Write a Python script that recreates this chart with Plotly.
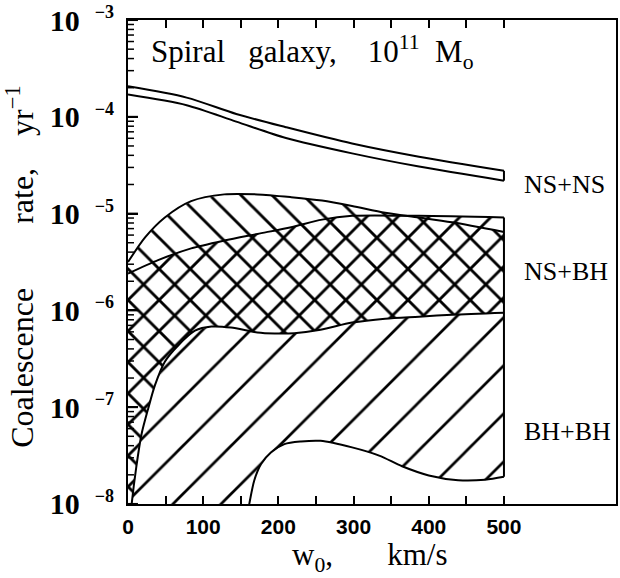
import plotly.graph_objects as go

# ---------------- data (rates in yr^-1, w0 in km/s) ----------------
ns_ns_w = [0, 78, 144, 210, 298, 387, 500]
ns_ns_upper = [2.065e-4, 1.58e-4, 1.07e-4, 7.82e-5, 5.30e-5, 3.87e-5, 2.77e-5]
ns_ns_lower = [1.70e-4, 1.32e-4, 8.93e-5, 6.04e-5, 4.19e-5, 3.06e-5, 2.19e-5]

nsbh_a_w = [0, 23, 49, 84, 128, 172, 217, 258, 298, 342, 387, 431, 500]
nsbh_a_upper = [3.16e-6, 5.71e-6, 9.12e-6, 1.345e-5, 1.58e-5, 1.58e-5, 1.48e-5,
                1.365e-5, 1.20e-5, 1.02e-5, 9.12e-6, 8.13e-6, 6.46e-6]

nsbh_b_w = [0, 40, 84, 128, 172, 217, 258, 298, 387, 500]
nsbh_b_upper = [2.40e-6, 3.31e-6, 4.37e-6, 5.27e-6, 6.17e-6, 7.24e-6, 8.67e-6,
                9.48e-6, 9.48e-6, 9.12e-6]

nsbh_low_w = [0, 5, 11, 18, 27, 36, 49, 67, 89, 111, 137, 172, 195, 221, 256,
              298, 342, 387, 431, 500]
nsbh_lower = [4.0e-9, 1.02e-8, 2.40e-8, 5.25e-8, 9.77e-8, 1.70e-7, 2.95e-7,
              4.37e-7, 6.17e-7, 6.81e-7, 6.65e-7, 5.92e-7, 5.78e-7, 5.82e-7,
              6.31e-7, 7.48e-7, 8.22e-7, 8.61e-7, 9.02e-7, 9.46e-7]

bhbh_low_w = [0, 150, 157, 161.5, 168, 177, 190, 208, 230, 256, 298, 334,
              364.5, 400, 439, 475, 500]
bhbh_lower = [1.0e-9, 2.5e-9, 6.3e-9, 1.02e-8, 1.76e-8, 2.59e-8, 3.41e-8,
              4.15e-8, 4.42e-8, 4.49e-8, 3.84e-8, 3.16e-8, 2.45e-8, 1.97e-8,
              1.76e-8, 1.78e-8, 1.91e-8]

x_tick_vals = [0, 50, 100, 150, 200, 250, 300, 350, 400, 450, 500]
x_tick_text = ["0", "", "100", "", "200", "", "300", "", "400", "", "500"]
y_exponents = [-8, -7, -6, -5, -4, -3]

labels = ["NS+NS", "NS+BH", "BH+BH"]

# ---------------- layout geometry ----------------
FIG_W, FIG_H = 620, 578
M_L, M_R, M_T, M_B = 128, 2, 13, 74
X_RANGE = [0, 649]
px_per_unit = (FIG_W - M_L - M_R) / (X_RANGE[1] - X_RANGE[0])

# ---------------- figure ----------------
fig = go.Figure()

def poly(xa, ya, xb, yb):
    return list(xa) + list(xb)[::-1], list(ya) + list(yb)[::-1]

TR = "rgba(0,0,0,0)"

def hatch(xs, ys, shape, size, solidity):
    fig.add_trace(go.Scatter(x=xs, y=ys, mode="lines", fill="toself",
                             line=dict(width=0, color=TR), fillcolor=TR,
                             fillpattern=dict(shape=shape, size=size, solidity=solidity,
                                              fgcolor="black", bgcolor=TR, fillmode="replace"),
                             hoverinfo="skip", showlegend=False))

# NS+BH model A  ("\" hatch)
hatch(*poly(nsbh_a_w, nsbh_a_upper, nsbh_low_w, nsbh_lower), "\\", 22, 0.13)
# NS+BH model B  ("/" hatch)
hatch(*poly(nsbh_b_w, nsbh_b_upper, nsbh_low_w, nsbh_lower), "/", 22, 0.13)
# BH+BH (sparse "/")
hatch(*poly(nsbh_low_w, nsbh_lower, bhbh_low_w, bhbh_lower), "/", 34, 0.08)

LINE = dict(color="black", width=2, shape="spline", smoothing=0.8)
for xs, ys in [(ns_ns_w, ns_ns_upper), (ns_ns_w, ns_ns_lower),
               (nsbh_a_w, nsbh_a_upper), (nsbh_b_w, nsbh_b_upper),
               (nsbh_low_w, nsbh_lower), (bhbh_low_w, bhbh_lower)]:
    fig.add_trace(go.Scatter(x=xs, y=ys, mode="lines", line=LINE,
                             hoverinfo="skip", showlegend=False))
# closing vertical edges at w0 = 500
fig.add_trace(go.Scatter(x=[ns_ns_w[-1], ns_ns_w[-1]], y=[ns_ns_upper[-1], ns_ns_lower[-1]],
                         mode="lines", line=dict(color="black", width=2),
                         hoverinfo="skip", showlegend=False))
fig.add_trace(go.Scatter(x=[nsbh_b_w[-1], bhbh_low_w[-1]], y=[nsbh_b_upper[-1], bhbh_lower[-1]],
                         mode="lines", line=dict(color="black", width=2),
                         hoverinfo="skip", showlegend=False))

y_tick_vals = [10.0 ** e for e in y_exponents]
NB = "\u00a0"
y_tick_text = ["<b>10</b>" + NB * 2 +
               "<sup><span style='font-size:18px'><b>\u2212%d</b></span></sup>" % (-e)
               for e in y_exponents]
minor_vals = [k * 10.0 ** e for e in y_exponents[:-1] for k in range(2, 10)]
y_range = [y_exponents[0] - 0.0005, y_exponents[-1] + 0.0005]

# inward tick dashes on the left axis (major 10 px, minor 6 px), placed on the y scale
def tick_segments(vals, length_px):
    xs, ys = [], []
    for v in vals:
        xs += [X_RANGE[0], X_RANGE[0] + length_px / px_per_unit, None]
        ys += [v, v, None]
    return xs, ys

for vals, length, width in [(y_tick_vals, 10, 2), (minor_vals, 6, 1.5)]:
    tx, ty = tick_segments(vals, length)
    fig.add_trace(go.Scatter(x=tx, y=ty, mode="lines", connectgaps=False,
                             line=dict(color="black", width=width),
                             hoverinfo="skip", showlegend=False))

SERIF = "Liberation Serif, Times New Roman, serif"

fig.update_layout(
    width=FIG_W, height=FIG_H,
    margin=dict(l=M_L, r=M_R, t=M_T, b=M_B),
    paper_bgcolor="white", plot_bgcolor="white",
    showlegend=False,
    xaxis=dict(range=X_RANGE, tickmode="array", tickvals=x_tick_vals, ticktext=x_tick_text,
               ticks="inside", ticklen=8, tickwidth=2, tickcolor="black",
               showline=True, linewidth=2, linecolor="black", mirror="ticks",
               showgrid=False, zeroline=False, ticklabelstandoff=3,
               tickfont=dict(family="Liberation Sans, Arial, sans-serif", size=21,
                             color="black", weight="bold")),
    yaxis=dict(type="log", range=y_range, tickmode="array", tickvals=y_tick_vals,
               ticktext=y_tick_text, ticks="inside", ticklen=10, tickwidth=2,
               tickcolor="black", showline=True, linewidth=2, linecolor="black",
               mirror=True, showgrid=False, zeroline=False, ticklabelstandoff=6,
               ticklabeloverflow="allow",
               tickfont=dict(family=SERIF, size=30, color="black")),
)

ann = [
    dict(text="Spiral" + NB * 3 + "galaxy," + NB * 4 + "10<sup>11</sup>" + NB * 2 + "M<sub>o</sub>",
         x=0.043, y=0.933, xanchor="left", yanchor="middle", font=dict(size=31)),
    dict(text=labels[0], x=0.808, y=0.660, xanchor="left", yanchor="middle", font=dict(size=26)),
    dict(text=labels[1], x=0.808, y=0.481, xanchor="left", yanchor="middle", font=dict(size=26)),
    dict(text=labels[2], x=0.808, y=0.149, xanchor="left", yanchor="middle", font=dict(size=26)),
    dict(text="w<sub>0</sub>," + NB * 7 + "km/s", x=0.495, y=-0.110, xanchor="center",
         yanchor="middle", font=dict(size=31)),
    dict(text="Coalescence" + NB * 8 + "rate," + NB * 4 + "yr<sup>\u22121</sup>",
         x=-0.222, y=0.4895, xanchor="center", yanchor="middle", textangle=-90,
         font=dict(size=32)),
]
for a in ann:
    a.update(xref="paper", yref="paper", showarrow=False)
    a["font"].update(family=SERIF, color="black")
    fig.add_annotation(**a)

# the browser gives <body> an 8px margin by default; remove it so the
# 620x578 figure fills the window exactly
fig.write_html("out.html", config={"displayModeBar": False},
               post_script="document.body.style.margin='0';")
